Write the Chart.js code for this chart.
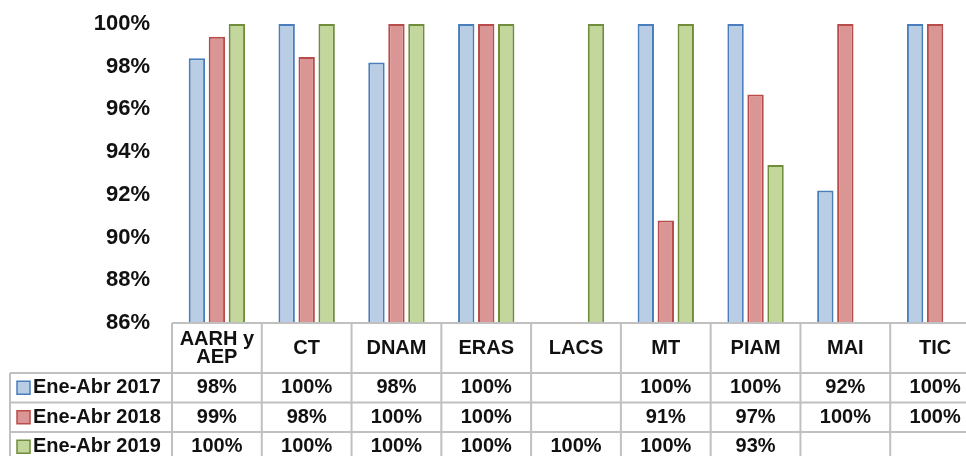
<!DOCTYPE html>
<html>
<head>
<meta charset="utf-8">
<script src="https://cdn.jsdelivr.net/npm/chart.js@4/dist/chart.umd.min.js"></script>
<style>
  html, body { margin: 0; padding: 0; background: #fff; overflow: hidden; }
  #wrap { width: 982px; height: 456px; }
</style>
</head>
<body>
<div id="wrap"><canvas id="chart"></canvas></div>
<script>
// Data
const categories = [['AARH y', 'AEP'], 'CT', 'DNAM', 'ERAS', 'LACS', 'MT', 'PIAM', 'MAI', 'TIC'];
const seriesNames = ['Ene-Abr 2017', 'Ene-Abr 2018', 'Ene-Abr 2019'];
const values2017 = [98.4, 100, 98.2, 100, null, 100, 100, 92.2, 100];
const values2018 = [99.4, 98.45, 100, 100, null, 90.8, 96.7, 100, 100];
const values2019 = [100, 100, 100, 100, 100, 100, 93.4, null, null];
const yTicks = [86, 88, 90, 92, 94, 96, 98, 100];

const fills = ['#b9cde5', '#d99694', '#c3d69b'];
const borders = ['#4a7ebb', '#b84c4a', '#6f8d3a'];
const FONT = '"Liberation Sans", Arial, sans-serif';

// Data table under the plot (legend keys + rounded values)
const tablePlugin = {
  id: 'dataTable',
  afterDraw(chart) {
    const { ctx, chartArea: a } = chart;
    const n = categories.length;
    const w = (a.right - a.left) / n;
    const top = a.bottom;
    const headBottom = top + 50;
    const rowH = 29.5;
    const bottom = headBottom + rowH * 3;
    const legendLeft = 10;

    ctx.save();
    ctx.strokeStyle = '#c0c0c0';
    ctx.lineWidth = 2;
    ctx.beginPath();
    ctx.moveTo(a.left, top); ctx.lineTo(a.right, top);
    for (let r = 0; r <= 3; r++) {
      const y = headBottom + r * rowH;
      ctx.moveTo(legendLeft, y); ctx.lineTo(a.right, y);
    }
    ctx.moveTo(legendLeft, headBottom); ctx.lineTo(legendLeft, bottom);
    for (let i = 0; i <= n; i++) {
      const x = a.left + i * w;
      ctx.moveTo(x, top); ctx.lineTo(x, bottom);
    }
    ctx.stroke();

    ctx.fillStyle = '#111';
    ctx.font = 'bold 20px ' + FONT;
    ctx.textBaseline = 'middle';
    ctx.textAlign = 'center';
    const headMid = (top + headBottom) / 2;
    categories.forEach((c, i) => {
      const lines = Array.isArray(c) ? c : [c];
      const cx = a.left + (i + 0.5) * w;
      lines.forEach((t, k) => {
        ctx.fillText(t, cx, headMid + (k - (lines.length - 1) / 2) * 18);
      });
    });

    const rows = [values2017, values2018, values2019];
    rows.forEach((vals, r) => {
      const cy = headBottom + (r + 0.5) * rowH;
      ctx.fillStyle = fills[r];
      ctx.strokeStyle = borders[r];
      ctx.lineWidth = 1.5;
      ctx.fillRect(17, cy - 6.5, 13, 13);
      ctx.strokeRect(17, cy - 6.5, 13, 13);
      ctx.fillStyle = '#111';
      ctx.textAlign = 'left';
      ctx.fillText(seriesNames[r], 33, cy);
      ctx.textAlign = 'center';
      vals.forEach((v, i) => {
        if (v == null) return;
        ctx.fillText(Math.round(v) + '%', a.left + (i + 0.5) * w, cy);
      });
    });
    ctx.restore();
  }
};

const datasets = [values2017, values2018, values2019].map((d, i) => ({
  label: seriesNames[i],
  data: d,
  backgroundColor: fills[i],
  borderColor: borders[i],
  borderWidth: 2,
  categoryPercentage: 0.668,
  barPercentage: 0.82
}));

new Chart(document.getElementById('chart'), {
  type: 'bar',
  data: { labels: categories, datasets },
  options: {
    responsive: true,
    maintainAspectRatio: false,
    animation: false,
    layout: { padding: { left: 0, right: 2, top: 24, bottom: 133 } },
    plugins: { legend: { display: false }, tooltip: { enabled: false } },
    scales: {
      x: { display: false },
      y: {
        min: 86,
        max: 100,
        afterFit: (s) => { s.width = 172; s.paddingTop = 0; s.paddingBottom = 0; },
        afterBuildTicks: (s) => { s.ticks = yTicks.map(v => ({ value: v })); },
        grid: { display: false, drawTicks: false },
        border: { display: false },
        ticks: {
          padding: 22,
          color: '#111',
          font: { family: FONT, size: 22, weight: 'bold' },
          callback: (v) => v + '%'
        }
      }
    }
  },
  plugins: [tablePlugin]
});
</script>
</body>
</html>
